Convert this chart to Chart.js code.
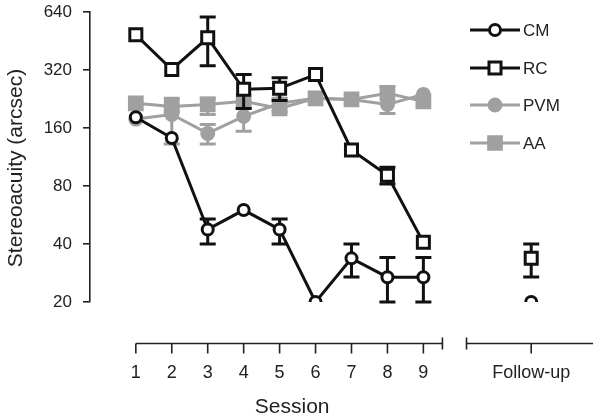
<!DOCTYPE html>
<html><head><meta charset="utf-8">
<script src="https://cdn.jsdelivr.net/npm/chart.js@4.4.1/dist/chart.umd.min.js"></script>
<style>html,body{margin:0;padding:0;background:#fff}#wrap{width:600px;height:418px;position:relative}</style>
</head><body><div id="wrap"><canvas id="c"></canvas></div>
<script>
// ---- data ----
const seriesNames = ['CM', 'RC', 'PVM', 'AA'];
const sessionLabels = ['1','2','3','4','5','6','7','8','9','Follow-up'];
const sessionPositions = [1,2,3,4,5,6,7,8,9,12];
const yTickValues = [20,40,80,160,320,640];

const cmValues   = [182, 142, 47.6, 60, 47.6, 20, 33.7, 26.9, 26.9, 20];
const cmErrLow   = [null, null, 40, null, 40, null, 27, 20, 20, null];
const cmErrHigh  = [null, null, 54, null, 54, null, 40, 34, 34, null];

const rcValues   = [487, 322, 470, 254, 257, 303, 123, 91, 40.8, 33.7];
const rcErrLow   = [null, null, 337, 202, 222, null, null, 82, null, 27];
const rcErrHigh  = [null, null, 603, 303, 292, null, null, 100, null, 40];

const pvmValues  = [178, 188, 150, 184, 215, 228, 225, 212, 239, null];
const pvmErrLow  = [null, 132, 132, 154, null, null, null, null, null, null];
const pvmErrHigh = [null, 207, 167, 220, null, null, null, null, null, null];

const aaValues   = [215, 207, 212, 220, 202, 228, 225, 242, 220, null];
const aaErrLow   = [null, 195, 188, null, 195, null, null, 190, null, null];
const aaErrHigh  = [null, 228, 228, null, 228, null, null, 263, null, null];

// ---- build ----
const GRAY = '#a0a0a0', BLACK = '#111';
function toPoints(vals){
  const pts = [];
  vals.forEach((v,i)=>{
    if (i === 9) pts.push({x:(sessionPositions[8]+sessionPositions[9])/2, y:null});
    pts.push({x:sessionPositions[i], y:v});
  });
  return pts;
}
const errs = [[cmErrLow,cmErrHigh],[rcErrLow,rcErrHigh],[pvmErrLow,pvmErrHigh],[aaErrLow,aaErrHigh]];
const styles = [
  {color:BLACK, fill:'#fff', pointStyle:'circle', radius:5.5},
  {color:BLACK, fill:'#fff', pointStyle:'rect', radius:8.5},
  {color:GRAY, fill:GRAY, pointStyle:'circle', radius:6},
  {color:GRAY, fill:GRAY, pointStyle:'rect', radius:9}
];
const allValues = [cmValues, rcValues, pvmValues, aaValues];
const datasets = allValues.map((vals,i)=>({
  label: seriesNames[i],
  data: toPoints(vals),
  borderColor: styles[i].color,
  backgroundColor: styles[i].fill,
  borderWidth: 3,
  pointStyle: styles[i].pointStyle,
  pointRadius: styles[i].radius,
  pointBorderWidth: 3,
  pointBorderColor: styles[i].color,
  pointBackgroundColor: styles[i].fill,
  spanGaps: false,
  tension: 0
}));

const errorBars = {
  id:'errorBars',
  beforeDatasetDraw(chart, args){
    const i = args.index;
    const [lo, hi] = errs[i];
    const xs = chart.scales.x, ys = chart.scales.y;
    const ctx = chart.ctx;
    ctx.save();
    ctx.strokeStyle = styles[i].color;
    ctx.lineWidth = 3;
    const cap = 8;
    allValues[i].forEach((v,k)=>{
      if (lo[k]==null && hi[k]==null) return;
      const x = xs.getPixelForValue(sessionPositions[k]);
      const yl = ys.getPixelForValue(lo[k]!=null?lo[k]:v);
      const yh = ys.getPixelForValue(hi[k]!=null?hi[k]:v);
      ctx.beginPath();
      ctx.moveTo(x, yl); ctx.lineTo(x, yh);
      if (lo[k]!=null){ ctx.moveTo(x-cap, yl); ctx.lineTo(x+cap, yl); }
      if (hi[k]!=null){ ctx.moveTo(x-cap, yh); ctx.lineTo(x+cap, yh); }
      ctx.stroke();
    });
    ctx.restore();
  }
};

const decor = {
  id:'decor',
  afterDraw(chart){
    const ctx = chart.ctx, xs = chart.scales.x, ys = chart.scales.y, ca = chart.chartArea;
    ctx.save();
    // broken x axis
    const ay = ca.bottom + 41.5;
    ctx.strokeStyle = '#222'; ctx.lineWidth = 1.6;
    const segs = [[1, 9.53],[10.2, 13.72]];
    ctx.beginPath();
    segs.forEach(([a,b])=>{
      ctx.moveTo(xs.getPixelForValue(a), ay); ctx.lineTo(xs.getPixelForValue(b), ay);
    });
    ctx.moveTo(xs.getPixelForValue(9.53), ay-6); ctx.lineTo(xs.getPixelForValue(9.53), ay+6);
    ctx.moveTo(xs.getPixelForValue(10.2), ay-6); ctx.lineTo(xs.getPixelForValue(10.2), ay+6);
    sessionPositions.forEach(p=>{
      const px = xs.getPixelForValue(p);
      ctx.moveTo(px, ay); ctx.lineTo(px, ay+10);
    });
    ctx.stroke();
    // axis titles
    ctx.fillStyle = '#222';
    ctx.font = '21px "Liberation Sans", Arial, sans-serif';
    ctx.textAlign = 'center'; ctx.textBaseline = 'middle';
    ctx.fillText('Session', xs.getPixelForValue(5.35), 407);
    ctx.save();
    ctx.translate(16, 168); ctx.rotate(-Math.PI/2);
    ctx.fillText('Stereoacuity (arcsec)', 0, 0);
    ctx.restore();
    // legend
    const ly = [30, 68, 105, 143];
    seriesNames.forEach((n,i)=>{
      const s = styles[i];
      ctx.strokeStyle = s.color; ctx.lineWidth = 3;
      ctx.beginPath(); ctx.moveTo(470, ly[i]); ctx.lineTo(520, ly[i]); ctx.stroke();
      ctx.fillStyle = s.fill; ctx.strokeStyle = s.color;
      ctx.beginPath();
      if (s.pointStyle==='circle') ctx.arc(495, ly[i], s.radius, 0, Math.PI*2);
      else { const h = s.radius*Math.SQRT1_2; ctx.rect(495-h, ly[i]-h, 2*h, 2*h); }
      ctx.fill(); ctx.stroke();
      ctx.fillStyle = '#222';
      ctx.font = '17px "Liberation Sans", Arial, sans-serif';
      ctx.textAlign = 'left';
      ctx.fillText(n, 523, ly[i]+1);
    });
    ctx.restore();
  }
};

Chart.defaults.font.family = '"Liberation Sans", Arial, sans-serif';
Chart.defaults.color = '#222';

new Chart(document.getElementById('c'), {
  type:'line',
  data:{datasets},
  plugins:[errorBars, decor],
  options:{
    responsive:true, maintainAspectRatio:false, animation:false,
    layout:{padding:{top:7, right:2, left:0, bottom:0}},
    plugins:{legend:{display:false}, tooltip:{enabled:false}},
    scales:{
      x:{
        type:'linear', min:-0.275, max:13.58,
        afterBuildTicks(s){ s.ticks = sessionPositions.map(v=>({value:v})); },
        afterFit(s){ s.height = 116; s.paddingLeft = 0; s.paddingRight = 0; },
        border:{display:false},
        grid:{display:false, drawTicks:false},
        ticks:{autoSkip:false, maxRotation:0, padding:60, font:{size:18},
          callback(v){ const k = sessionPositions.indexOf(v); return k>=0 ? sessionLabels[k] : ''; }}
      },
      y:{
        type:'logarithmic', min:20, max:640,
        afterBuildTicks(s){ s.ticks = yTickValues.map(v=>({value:v})); },
        afterFit(s){ s.width = 90; s.paddingTop = 0; s.paddingBottom = 0; },
        border:{display:true, color:'#222', width:1.6},
        grid:{drawOnChartArea:false, drawTicks:true, tickLength:7, color:'#222', lineWidth:1.6},
        ticks:{padding:11, font:{size:17}, callback(v){ return String(v); }}
      }
    }
  }
});
</script></body></html>
